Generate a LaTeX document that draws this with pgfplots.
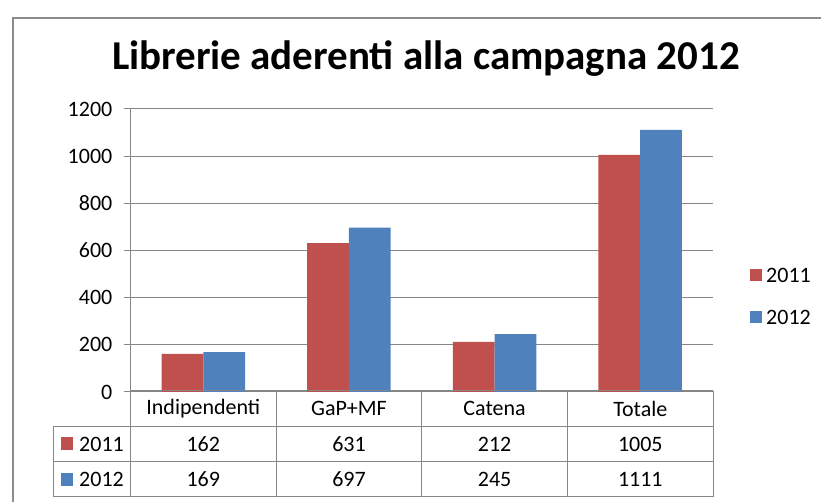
\documentclass[border=0pt]{standalone}
\usepackage{fontspec}
\setmainfont{Carlito}
\usepackage{pgfplots}
\pgfplotsset{compat=1.18}
\definecolor{cRed}{RGB}{192,80,77}
\definecolor{cBlue}{RGB}{79,129,189}
\definecolor{cGrid}{RGB}{134,134,134}
\definecolor{cFrame}{RGB}{140,140,140}
\begin{document}
\begin{tikzpicture}[x=1pt,y=1pt]
\path[use as bounding box] (0,0) rectangle (821,502);
% chart frame
\draw[cFrame, line width=2pt] (13,0) -- (13,484) -- (821,484);
% title
\node[font=\fontsize{41}{44}\selectfont\bfseries, anchor=base, inner sep=0pt] at (426,432.7) {Librerie aderenti alla campagna 2012};
\begin{axis}[
  at={(130.5pt,110pt)}, anchor=south west,
  scale only axis, width=582.5pt, height=283pt,
  xmin=-0.5, xmax=3.5, ymin=0, ymax=1200,
  ytick={0,200,400,600,800,1000,1200},
  xtick=\empty,
  axis line style={cGrid, line width=1pt},
  axis lines*=left,
  ymajorgrids, grid style={cGrid, line width=1pt},
  major tick style={cGrid, line width=1pt},
  tick align=outside, major tick length=7pt,
  yticklabel style={font=\fontsize{22}{24}\selectfont, anchor=east, inner sep=0pt, xshift=-11pt},
  /pgf/number format/assume math mode=true,
  /pgf/number format/1000 sep={},
  ybar, bar width=41.7pt,
  clip=false,
]
\addplot[fill=cRed, draw=none, bar shift=-20.85pt] coordinates {(0,162) (1,631) (2,212) (3,1005)};
\addplot[fill=cBlue, draw=none, bar shift=20.85pt] coordinates {(0,169) (1,697) (2,245) (3,1111)};
\end{axis}
% data table grid
\begin{scope}[cGrid, line width=1pt]
\draw (130.5,111) -- (713,111);
\draw (53,75.3) -- (713,75.3);
\draw (53,40.3) -- (713,40.3);
\draw (53,5) -- (713,5);
\draw (53,75.3) -- (53,5);
\draw (130.5,111) -- (130.5,5);
\draw (276,111) -- (276,5);
\draw (421.8,111) -- (421.8,5);
\draw (567.3,111) -- (567.3,5);
\draw (713,111) -- (713,5);
\end{scope}
\begin{scope}[every node/.style={font=\fontsize{22}{24}\selectfont, inner sep=0pt}]
\node at (203.3,93.2) {Indipendenti};
\node at (349,93.2) {GaP+MF};
\node at (494.6,93.2) {Catena};
\node at (640.3,93.2) {Totale};
\fill[cRed] (60.7,51.5) rectangle (73.3,64.5);
\node[anchor=west] at (79,57.8) {2011};
\node at (203.3,57.8) {162};
\node at (349,57.8) {631};
\node at (494.6,57.8) {212};
\node at (640.3,57.8) {1005};
\fill[cBlue] (60.7,16.3) rectangle (73.3,29.3);
\node[anchor=west] at (79,22.6) {2012};
\node at (203.3,22.6) {169};
\node at (349,22.6) {697};
\node at (494.6,22.6) {245};
\node at (640.3,22.6) {1111};
% legend
\fill[cRed] (749.5,220.5) rectangle (761.5,232.5);
\node[anchor=west] at (766,226.5) {2011};
\fill[cBlue] (749.5,178.5) rectangle (761.5,190.5);
\node[anchor=west] at (766,184.5) {2012};
\end{scope}
\end{tikzpicture}
\end{document}
